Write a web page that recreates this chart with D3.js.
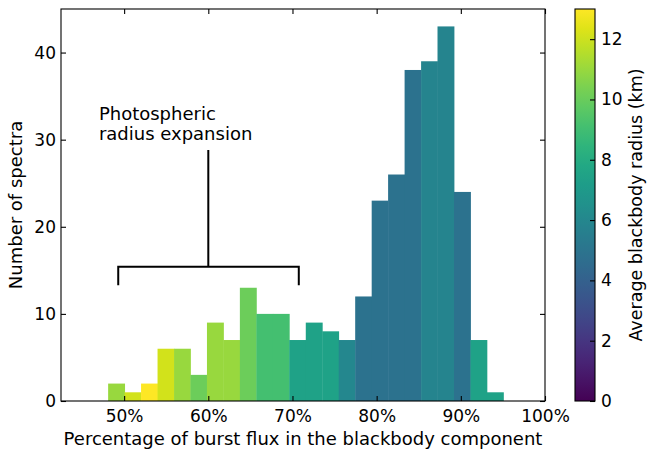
<!DOCTYPE html>
<html>
<head>
<meta charset="utf-8">
<script src="https://cdn.jsdelivr.net/npm/d3@7"></script>
<style>
  html, body { margin: 0; padding: 0; background: #fff; }
  svg { display: block; font-family: "DejaVu Sans", sans-serif; }
</style>
</head>
<body>
<svg id="chart" width="647" height="455"></svg>
<script>
// ---- data ----
const binLeft = [48.10, 50.06, 52.01, 53.97, 55.93, 57.88, 59.84, 61.80, 63.75, 65.71, 67.67, 69.62,
                 71.58, 73.54, 75.49, 77.45, 79.41, 81.36, 83.32, 85.28, 87.23, 89.19, 91.15, 93.10];
const binRight = [50.06, 52.01, 53.97, 55.93, 57.88, 59.84, 61.80, 63.75, 65.71, 67.67, 69.62, 71.58,
                  73.54, 75.49, 77.45, 79.41, 81.36, 83.32, 85.28, 87.23, 89.19, 91.15, 93.10, 95.06];
const counts = [2, 1, 2, 6, 6, 3, 9, 7, 13, 10, 10, 7, 9, 8, 7, 12, 23, 26, 38, 39, 43, 24, 7, 1];
const avgRadius = [11.0, 12.1, 13.0, 12.1, 11.0, 10.1, 11.0, 11.0, 10.1, 9.1, 9.1, 7.5,
                   7.5, 7.5, 6.0, 4.9, 4.9, 4.9, 4.9, 5.85, 5.85, 4.9, 7.5, 7.5];
const xTicks = [50, 60, 70, 80, 90, 100];
const yTicks = [0, 10, 20, 30, 40];
const cbTicks = [0, 2, 4, 6, 8, 10, 12];
const xDomain = [42.5, 100];
const yDomain = [0, 45];
const cbDomain = [0, 13];
const annotationLines = ["Photospheric", "radius expansion"];
const bracket = { x0: 49.3, x1: 70.75, y: 15.4, yEnd: 13.3, xMid: 60.0, yTop: 28.8 };
const annotationPos = { x: 47.0, y: 32.3 };

// ---- layout ----
const svg = d3.select("#chart");
const L = 61, R = 545, T = 9, B = 401;
const cbL = 575, cbR = 595;
const fs = 18;
const tfs = 17;
const tickLen = 5;

const x = d3.scaleLinear().domain(xDomain).range([L, R]);
const y = d3.scaleLinear().domain(yDomain).range([B, T]);
const cb = d3.scaleLinear().domain(cbDomain).range([B, T]);
const color = d3.scaleSequential(d3.interpolateViridis).domain(cbDomain);

// bars
const bins = counts.map((c, i) => ({ x0: binLeft[i], x1: binRight[i], c, r: avgRadius[i] }));
svg.append("g").selectAll("rect").data(bins).join("rect")
  .attr("x", d => x(d.x0))
  .attr("width", d => x(d.x1) - x(d.x0) + 0.4)
  .attr("y", d => y(d.c))
  .attr("height", d => y(0) - y(d.c))
  .attr("fill", d => color(d.r));

// axes (ticks inward, all sides)
function styleAxis(g) {
  g.select(".domain").remove();
  g.selectAll(".tick line").attr("stroke", "#000").attr("stroke-width", 1.1);
  g.selectAll(".tick text").attr("font-size", tfs).attr("fill", "#000")
    .attr("font-family", "DejaVu Sans, sans-serif");
}
const xb = svg.append("g").attr("transform", `translate(0,${B})`)
  .call(d3.axisBottom(x).tickValues(xTicks).tickFormat(d => d + "%").tickSize(-tickLen).tickPadding(9));
styleAxis(xb);
const xt = svg.append("g").attr("transform", `translate(0,${T})`)
  .call(d3.axisTop(x).tickValues(xTicks).tickFormat("").tickSize(-tickLen));
styleAxis(xt);
const yl = svg.append("g").attr("transform", `translate(${L},0)`)
  .call(d3.axisLeft(y).tickValues(yTicks).tickSize(-tickLen).tickPadding(5));
styleAxis(yl);
const yr = svg.append("g").attr("transform", `translate(${R},0)`)
  .call(d3.axisRight(y).tickValues(yTicks).tickFormat("").tickSize(-tickLen));
styleAxis(yr);

// frame
svg.append("rect").attr("x", L).attr("y", T).attr("width", R - L).attr("height", B - T)
  .attr("fill", "none").attr("stroke", "#000").attr("stroke-width", 1.1);

// axis labels
svg.append("text").attr("x", (L + R) / 2).attr("y", 445)
  .attr("text-anchor", "middle").attr("font-size", fs)
  .text("Percentage of burst flux in the blackbody component");
svg.append("text").attr("transform", `translate(22,${(T + B) / 2}) rotate(-90)`)
  .attr("text-anchor", "middle").attr("font-size", fs)
  .text("Number of spectra");

// annotation
const ann = svg.append("text").attr("font-size", fs).attr("x", x(annotationPos.x)).attr("y", y(annotationPos.y));
annotationLines.forEach((t, i) => {
  ann.append("tspan").attr("x", x(annotationPos.x)).attr("dy", i === 0 ? 0 : 20).text(t);
});
const bp = d3.path();
bp.moveTo(x(bracket.x0), y(bracket.yEnd));
bp.lineTo(x(bracket.x0), y(bracket.y));
bp.lineTo(x(bracket.x1), y(bracket.y));
bp.lineTo(x(bracket.x1), y(bracket.yEnd));
bp.moveTo(x(bracket.xMid), y(bracket.y));
bp.lineTo(x(bracket.xMid), y(bracket.yTop));
svg.append("path").attr("d", bp.toString()).attr("fill", "none")
  .attr("stroke", "#000").attr("stroke-width", 2);

// colorbar
const defs = svg.append("defs");
const grad = defs.append("linearGradient").attr("id", "vir")
  .attr("x1", 0).attr("y1", 1).attr("x2", 0).attr("y2", 0);
d3.range(0, 1.0001, 0.05).forEach(t => {
  grad.append("stop").attr("offset", t).attr("stop-color", d3.interpolateViridis(t));
});
svg.append("rect").attr("x", cbL).attr("y", T).attr("width", cbR - cbL).attr("height", B - T)
  .attr("fill", "url(#vir)").attr("stroke", "#000").attr("stroke-width", 1.1);
const cba = svg.append("g").attr("transform", `translate(${cbR},0)`)
  .call(d3.axisRight(cb).tickValues(cbTicks).tickSize(-tickLen).tickPadding(6));
styleAxis(cba);
svg.append("text").attr("transform", `translate(642,${(T + B) / 2}) rotate(-90)`)
  .attr("text-anchor", "middle").attr("font-size", 17.5)
  .text("Average blackbody radius (km)");
</script>
</body>
</html>
